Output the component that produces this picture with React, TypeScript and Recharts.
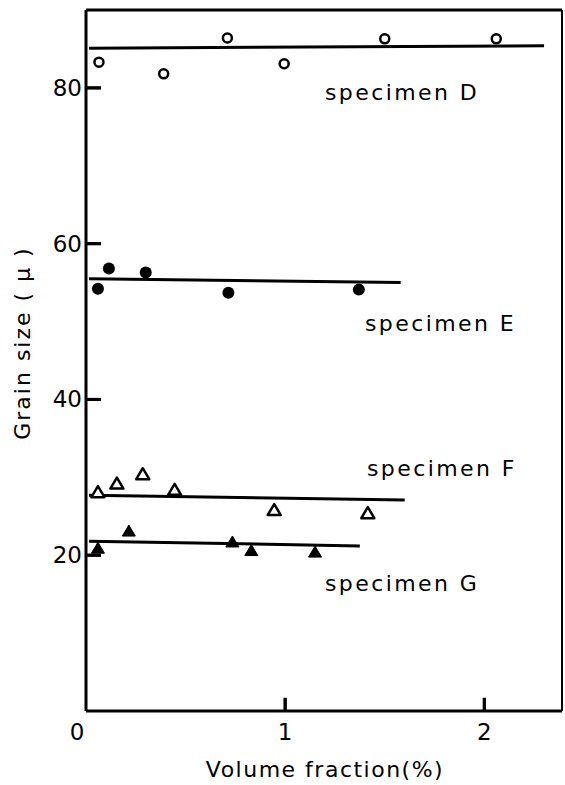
import { ComposedChart, Scatter, XAxis, YAxis, ReferenceLine, Customized } from 'recharts';

// volume fraction (%) and grain size (μ) per specimen
const FRAC_D = [0.065, 0.39, 0.71, 0.995, 1.5, 2.06];
const SIZE_D = [83.3, 81.8, 86.4, 83.1, 86.3, 86.3];
const FRAC_E = [0.06, 0.115, 0.3, 0.715, 1.37];
const SIZE_E = [54.2, 56.8, 56.3, 53.7, 54.1];
const FRAC_F = [0.06, 0.155, 0.285, 0.445, 0.945, 1.415];
const SIZE_F = [28.1, 29.2, 30.4, 28.4, 25.8, 25.4];
const FRAC_G = [0.06, 0.215, 0.735, 0.83, 1.15];
const SIZE_G = [20.9, 23.1, 21.7, 20.6, 20.4];

// fitted lines (start / end)
const FIT_D_X = [0.015, 2.3];
const FIT_D_Y = [85.1, 85.4];
const FIT_E_X = [0.015, 1.58];
const FIT_E_Y = [55.5, 55.0];
const FIT_F_X = [0.015, 1.6];
const FIT_F_Y = [27.7, 27.1];
const FIT_G_X = [0.015, 1.375];
const FIT_G_Y = [21.8, 21.2];

const X_TICKS = [0, 1, 2];
const Y_TICKS = [20, 40, 60, 80];

const zip = (xs: number[], ys: number[]) => xs.map((x, i) => ({ x, y: ys[i] }));

const FONT = '"DejaVu Sans", sans-serif';
const INK = '#000';

const openCircle = (p: any) => <circle cx={p.cx} cy={p.cy} r={4.5} fill="#fff" stroke={INK} strokeWidth={2.5} />;
const dotCircle = (p: any) => <circle cx={p.cx} cy={p.cy} r={6} fill={INK} />;
const tri = (filled: boolean) => (p: any) => (
  <path
    d={`M${p.cx},${p.cy - 6} L${p.cx + 6.5},${p.cy + 5} L${p.cx - 6.5},${p.cy + 5} Z`}
    fill={filled ? INK : '#fff'}
    stroke={INK}
    strokeWidth={filled ? 1 : 2.5}
    strokeLinejoin="round"
  />
);
const none = () => <g />;

// tick label plus an inward tick mark at the scale position
const yTick = (p: any) => (
  <g>
    <line x1={86} x2={101} y1={p.y} y2={p.y} stroke="black" strokeWidth={3} />
    <text x={82} y={p.y + 8} textAnchor="end" fontSize={23} fontFamily={FONT} fill={INK}>
      {p.payload.value}
    </text>
  </g>
);

const xTick = (p: any) => (
  <g>
    {p.payload.value !== 0 && <line x1={p.x} x2={p.x} y1={711} y2={698} stroke="black" strokeWidth={3} />}
    <text
      x={p.payload.value === 0 ? p.x - 9 : p.x}
      y={p.y + 21}
      textAnchor="middle"
      fontSize={23}
      fontFamily={FONT}
      fill={INK}
    >
      {p.payload.value}
    </text>
  </g>
);

const Texts = () => {
  const s = { fontSize: 22, fontFamily: FONT, fill: INK, letterSpacing: 2.4 } as const;
  return (
    <g>
      <text x={325} y={100} {...s}>specimen  D</text>
      <text x={365} y={331} {...s}>specimen  E</text>
      <text x={367} y={476} {...s}>specimen  F</text>
      <text x={325} y={591} {...s}>specimen  G</text>
      <text x={325} y={777} textAnchor="middle" fontSize={22} fontFamily={FONT} fill={INK} letterSpacing={1.5}>
        Volume fraction(%)
      </text>
      <text
        x={30}
        y={343}
        textAnchor="middle"
        fontSize={22}
        fontFamily={FONT}
        fill={INK}
        letterSpacing={2}
        transform="rotate(-90 30 343)"
      >
        Grain size  ( μ )
      </text>
    </g>
  );
};

const tickLineStyle = { stroke: INK, strokeWidth: 3 };

export default function App() {
  return (
    <div style={{ position: 'absolute', left: 0, top: 0, background: '#fff' }}>
      <ComposedChart width={565} height={785} margin={{ top: 10, right: 3, left: 0, bottom: 0 }}>
        <XAxis
          type="number"
          dataKey="x"
          domain={[0, 2.39]}
          ticks={X_TICKS}
          height={74}
          tickLine={false}
          tick={xTick}
          axisLine={{ stroke: INK, strokeWidth: 3 }}
        />
        <YAxis
          type="number"
          dataKey="y"
          domain={[0, 90]}
          ticks={Y_TICKS}
          width={86}
          tickLine={false}
          tick={yTick}
          axisLine={{ stroke: INK, strokeWidth: 3 }}
        />
        <ReferenceLine y={90} stroke={INK} strokeWidth={3} />
        <ReferenceLine x={2.39} stroke={INK} strokeWidth={2} />

        {/* inward tick marks */}
        {Y_TICKS.map((t) => (
          <Scatter
            key={'y' + t}
            data={[{ x: 0, y: t }, { x: 0.075, y: t }]}
            line={tickLineStyle}
            shape={none}
            isAnimationActive={false}
          />
        ))}
        {X_TICKS.filter((t) => t > 0).map((t) => (
          <Scatter
            key={'x' + t}
            data={[{ x: t, y: 0 }, { x: t, y: 1.7 }]}
            line={tickLineStyle}
            shape={none}
            isAnimationActive={false}
          />
        ))}

        <Scatter data={zip(FIT_D_X, FIT_D_Y)} line={{ stroke: INK, strokeWidth: 3 }} shape={none} isAnimationActive={false} />
        <Scatter data={zip(FIT_E_X, FIT_E_Y)} line={{ stroke: INK, strokeWidth: 3 }} shape={none} isAnimationActive={false} />
        <Scatter data={zip(FIT_F_X, FIT_F_Y)} line={{ stroke: INK, strokeWidth: 3 }} shape={none} isAnimationActive={false} />
        <Scatter data={zip(FIT_G_X, FIT_G_Y)} line={{ stroke: INK, strokeWidth: 3 }} shape={none} isAnimationActive={false} />

        <Scatter data={zip(FRAC_D, SIZE_D)} shape={openCircle} isAnimationActive={false} />
        <Scatter data={zip(FRAC_E, SIZE_E)} shape={dotCircle} isAnimationActive={false} />
        <Scatter data={zip(FRAC_F, SIZE_F)} shape={tri(false)} isAnimationActive={false} />
        <Scatter data={zip(FRAC_G, SIZE_G)} shape={tri(true)} isAnimationActive={false} />

        <Customized component={Texts} />
      </ComposedChart>
    </div>
  );
}
